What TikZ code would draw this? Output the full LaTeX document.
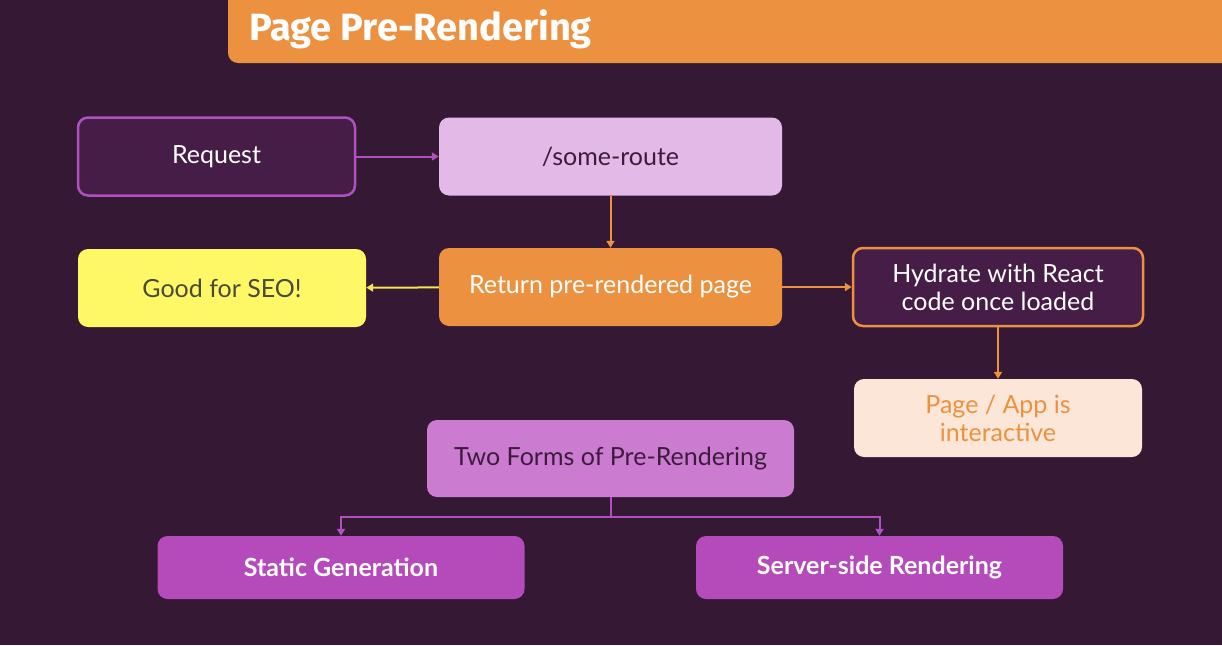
\documentclass[tikz,border=0pt]{standalone}
\usepackage{fontspec}
\setmainfont{Lato}
\newfontfamily\titlefont{Fira Sans}
\usetikzlibrary{arrows.meta}
\definecolor{bgdark}{HTML}{341834}
\definecolor{plumfill}{HTML}{461D47}
\definecolor{plumline}{HTML}{B150C0}
\definecolor{lilac}{HTML}{E2B9E7}
\definecolor{plumtext}{HTML}{3E1B3D}
\definecolor{pumpkin}{HTML}{EC9140}
\definecolor{lemon}{HTML}{FEF866}
\definecolor{lemonline}{HTML}{F5E64C}
\definecolor{greytext}{HTML}{4A4A3A}
\definecolor{cream}{HTML}{FBE6D7}
\definecolor{orchid}{HTML}{CB7BD0}
\definecolor{violet}{HTML}{B54ABB}
\begin{document}
\begin{tikzpicture}[>={Triangle[length=7pt,width=8pt]}, x=1pt, y=-1pt, font=\fontsize{25}{28}\selectfont]
      \tikzset{box/.style={rounded corners=10pt, minimum height=78pt, align=center, inner sep=0pt},
        darkbox/.style={box, fill=plumfill, line width=2.5pt, text=white},
        formbox/.style={box, fill=violet, minimum height=63pt, minimum width=367pt, text=white, font=\fontsize{25}{28}\selectfont\bfseries},
        link/.style={->, line width=2pt}}
      \fill[bgdark] (0,0) rectangle (1222,645);
      \useasboundingbox (0,0) rectangle (1222,645);
      \fill[pumpkin, rounded corners=10pt] (228,-20) rectangle (1240,63);
      \node[anchor=base west, text=white, font=\titlefont\fontsize{38}{42}\selectfont\bfseries] (title) at (246,40) {Page Pre-Rendering};
      \node[darkbox, draw=plumline, minimum width=277pt] (request) at (216.5,156.5) {Request};
      \node[box, fill=lilac, text=plumtext, minimum width=343pt] (route) at (610.5,156.5) {/some-route};
      \node[box, fill=pumpkin, text=white, minimum width=343pt] (render) at (610.5,287) {Return pre-rendered page};
      \node[box, fill=lemon, text=greytext, minimum width=288pt] (seo) at (222,288) {Good for SEO!};
      \node[darkbox, draw=pumpkin, minimum width=290pt] (hydrate) at (998,287) {Hydrate with React\\code once loaded};
      \node[box, fill=cream, text=pumpkin, minimum width=288pt] (interactive) at (998,418) {Page / App is\\interactive};
      \node[box, fill=orchid, text=plumtext, minimum width=367pt, minimum height=77pt] (forms) at (610.5,458.5) {Two Forms of Pre-Rendering};
      \node[formbox] (static) at (341,567.5) {Static Generation};
      \node[formbox] (ssr) at (879.5,567.5) {Server-side Rendering};
      \draw[link, plumline] (request) -- (route);
      \draw[link, pumpkin] (route) -- (render);
      \draw[link, lemonline] (render) -- (seo);
      \draw[link, pumpkin] (render) -- (hydrate);
      \draw[link, pumpkin] (hydrate) -- (interactive);
      \draw[link, plumline] (forms.south) -- ++(0,20) -| (static.north);
      \draw[link, plumline] (forms.south) -- ++(0,20) -| (ssr.north);
    \end{tikzpicture}
\end{document}
